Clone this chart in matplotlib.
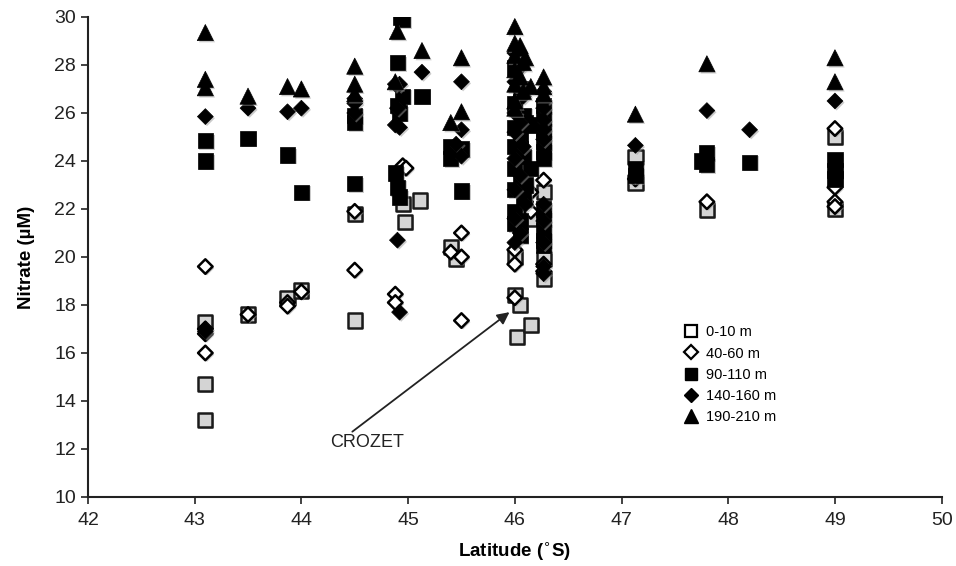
import matplotlib.pyplot as plt
import matplotlib.patheffects as pe
from matplotlib.lines import Line2D

plt.rcParams['font.family'] = ['Liberation Sans', 'DejaVu Sans']

# Nitrate by depth band: latitude (deg S) and concentration (uM)
lat_0_10 = [43.1, 43.1, 43.1, 43.5, 43.87, 44.0, 44.5, 44.5, 44.95, 44.97, 45.11,
            45.4, 45.45, 46.0, 46.0, 46.05, 46.02, 46.15, 46.15, 46.27, 46.27, 46.27,
            47.13, 47.13, 47.8, 49.0, 49.0]
no3_0_10 = [17.3, 14.7, 13.2, 17.6, 18.3, 18.6, 21.8, 17.35, 22.2, 21.45, 22.35,
            20.4, 19.9, 20.0, 18.4, 18.0, 16.65, 17.15, 21.6, 22.7, 19.9, 19.1,
            24.15, 23.1, 21.95, 25.0, 22.0]

lat_40_60 = [43.1, 43.1, 43.1, 43.1, 43.5, 43.87, 43.87, 44.0, 44.5, 44.5, 44.88,
             44.95, 44.98, 44.88, 45.4, 45.5, 45.5, 45.5, 46.0, 46.0, 46.0, 46.05,
             46.1, 46.15, 46.15, 46.27, 46.27, 46.27, 47.13, 47.8, 49.0, 49.0, 49.0, 49.0]
no3_40_60 = [19.6, 17.0, 16.8, 16.0, 17.6, 18.1, 17.95, 18.55, 21.9, 19.45, 18.45,
             23.8, 23.7, 18.1, 20.2, 21.0, 20.0, 17.35, 19.7, 18.3, 20.3, 21.3,
             22.3, 22.7, 21.9, 23.2, 19.7, 19.4, 23.25, 22.3, 25.35, 22.9, 22.3, 22.1]

lat_90_110 = [43.1, 43.1, 43.5, 43.87, 44.0, 44.5, 44.5, 44.5, 44.93, 44.95, 44.9,
              44.95, 44.9, 44.92, 44.88, 44.9, 44.92, 45.13, 45.4, 45.4, 45.5, 45.5,
              46.0, 46.05, 46.0, 46.08, 46.0, 46.05, 46.0, 46.08, 46.0, 46.05, 46.0, 46.08,
              46.0, 46.05, 46.1, 46.05, 46.1, 46.0, 46.05, 46.15, 46.15,
              46.27, 46.27, 46.27, 46.27, 46.27, 46.27, 46.27, 46.27, 46.27, 46.27, 46.27,
              47.13, 47.13, 47.8, 47.75, 47.8, 48.2, 49.0, 49.0, 49.0]
no3_90_110 = [24.85, 24.0, 24.95, 24.25, 22.7, 25.9, 25.6, 23.05, 30.0, 29.9, 28.1,
              26.7, 26.3, 26.0, 23.5, 22.9, 22.5, 26.7, 24.6, 24.1, 24.5, 22.75,
              27.9, 27.0, 26.4, 25.9, 25.4, 25.0, 24.6, 24.2, 23.7, 23.2, 22.8, 22.4,
              21.9, 21.5, 25.6, 24.5, 23.0, 21.4, 20.9, 25.5, 23.7,
              26.3, 25.8, 25.3, 24.8, 24.4, 24.1, 22.0, 21.6, 21.1, 20.7, 20.5,
              23.7, 23.4, 24.35, 24.0, 23.85, 23.95, 24.05, 23.6, 23.25]

lat_140_160 = [43.1, 43.1, 43.1, 43.5, 43.87, 44.0, 44.5, 44.5, 44.5, 44.88, 44.92,
               44.9, 44.88, 44.92, 44.9, 44.92, 45.13, 45.5, 45.5, 45.45, 45.5,
               46.0, 46.05, 46.0, 46.08, 46.0, 46.05, 46.0, 46.08, 46.0, 46.05, 46.0, 46.1,
               46.0, 46.05, 46.0, 46.27, 46.27, 46.27, 46.27, 46.27, 46.27, 46.27,
               46.27, 46.27, 46.27, 46.27, 47.13, 47.8, 48.2, 49.0]
no3_140_160 = [25.85, 17.0, 16.9, 26.2, 26.05, 26.2, 26.6, 26.4, 26.0, 27.2, 27.2,
               26.2, 25.5, 25.4, 20.7, 17.7, 27.7, 27.3, 25.3, 24.7, 24.2,
               28.5, 27.9, 27.3, 26.7, 26.0, 25.6, 25.2, 24.6, 24.1, 23.4, 22.8, 22.2,
               21.6, 21.0, 20.6, 26.9, 26.5, 26.2, 25.7, 25.3, 24.9, 22.2,
               21.5, 20.6, 19.6, 19.3, 24.65, 26.1, 25.3, 26.5]

lat_190_210 = [43.1, 43.1, 43.1, 43.5, 43.87, 44.0, 44.5, 44.5, 44.5, 44.9, 44.88,
               45.13, 45.5, 45.5, 45.4, 46.0, 46.0, 46.05, 46.0, 46.08, 46.0, 46.05,
               46.0, 46.08, 46.0, 46.0, 46.05, 46.1, 46.15, 46.27, 46.27, 46.27,
               47.13, 47.8, 49.0, 49.0]
no3_190_210 = [29.35, 27.4, 27.05, 26.7, 27.1, 27.0, 27.95, 27.2, 26.8, 29.4, 27.3,
               28.6, 28.3, 26.05, 25.6, 29.6, 28.9, 28.7, 28.4, 28.1, 27.8, 27.5,
               27.2, 26.9, 26.5, 26.2, 28.8, 28.3, 27.1, 27.5, 27.1, 26.8,
               25.95, 28.05, 28.3, 27.3]

labels = ['0-10 m', '40-60 m', '90-110 m', '140-160 m', '190-210 m']

fig, ax = plt.subplots(figsize=(9.56, 5.66), dpi=100)
fig.subplots_adjust(left=0.092, right=0.985, bottom=0.122, top=0.970)

shadow = [pe.SimplePatchShadow(offset=(1.2, -1.2), shadow_rgbFace='0.6', alpha=0.5), pe.Normal()]

ax.scatter(lat_0_10, no3_0_10, marker='s', s=105, facecolor='#d4d4d4',
           edgecolor='#1a1a1a', linewidth=1.8, path_effects=shadow, zorder=3)
ax.scatter(lat_40_60, no3_40_60, marker='D', s=55, facecolor='white',
           edgecolor='black', linewidth=1.8, path_effects=shadow, zorder=3)
ax.scatter(lat_90_110, no3_90_110, marker='s', s=120, facecolor='black',
           edgecolor='black', linewidth=0.5, path_effects=shadow, zorder=3)
ax.scatter(lat_140_160, no3_140_160, marker='D', s=65, facecolor='black',
           edgecolor='black', linewidth=0.5, path_effects=shadow, zorder=3)
ax.scatter(lat_190_210, no3_190_210, marker='^', s=135, facecolor='black',
           edgecolor='black', linewidth=0.5, path_effects=shadow, zorder=3)

ax.set_xlim(42, 50)
ax.set_ylim(10, 30)
ax.set_xticks(range(42, 51))
ax.set_yticks(range(10, 31, 2))
ax.tick_params(direction='out', length=5, width=1.2, labelsize=14, colors='#222222')
ax.tick_params(axis='x', pad=6)
for side in ('top', 'right'):
    ax.spines[side].set_visible(False)
for side in ('left', 'bottom'):
    ax.spines[side].set_linewidth(1.5)
    ax.spines[side].set_color('#222222')

ax.set_xlabel('Latitude ($^{\\circ}$S)', fontsize=13.5, fontweight='bold', labelpad=8)
ax.set_ylabel('Nitrate (\u00b5M)', fontsize=13.5, fontweight='bold', labelpad=14)

ax.annotate('CROZET', xy=(45.95, 17.7), xytext=(44.27, 12.25),
            fontsize=13, color='#222222', va='center', ha='left',
            arrowprops=dict(arrowstyle='-|>', color='#222222', lw=1.3,
                            mutation_scale=18, shrinkA=0, shrinkB=0,
                            relpos=(0.25, 1.0)))

handles = [
    Line2D([], [], ls='none', marker='s', ms=9, mfc='white', mec='black', mew=1.6),
    Line2D([], [], ls='none', marker='D', ms=7, mfc='white', mec='black', mew=1.6),
    Line2D([], [], ls='none', marker='s', ms=9, mfc='black', mec='black'),
    Line2D([], [], ls='none', marker='D', ms=7, mfc='black', mec='black'),
    Line2D([], [], ls='none', marker='^', ms=10, mfc='black', mec='black'),
]
ax.legend(handles, labels, loc='upper left', bbox_to_anchor=(0.683, 0.385),
          frameon=False, fontsize=10.5, handlelength=1.0, handletextpad=0.5,
          labelspacing=0.5)

fig.savefig('out.png', dpi=100)
